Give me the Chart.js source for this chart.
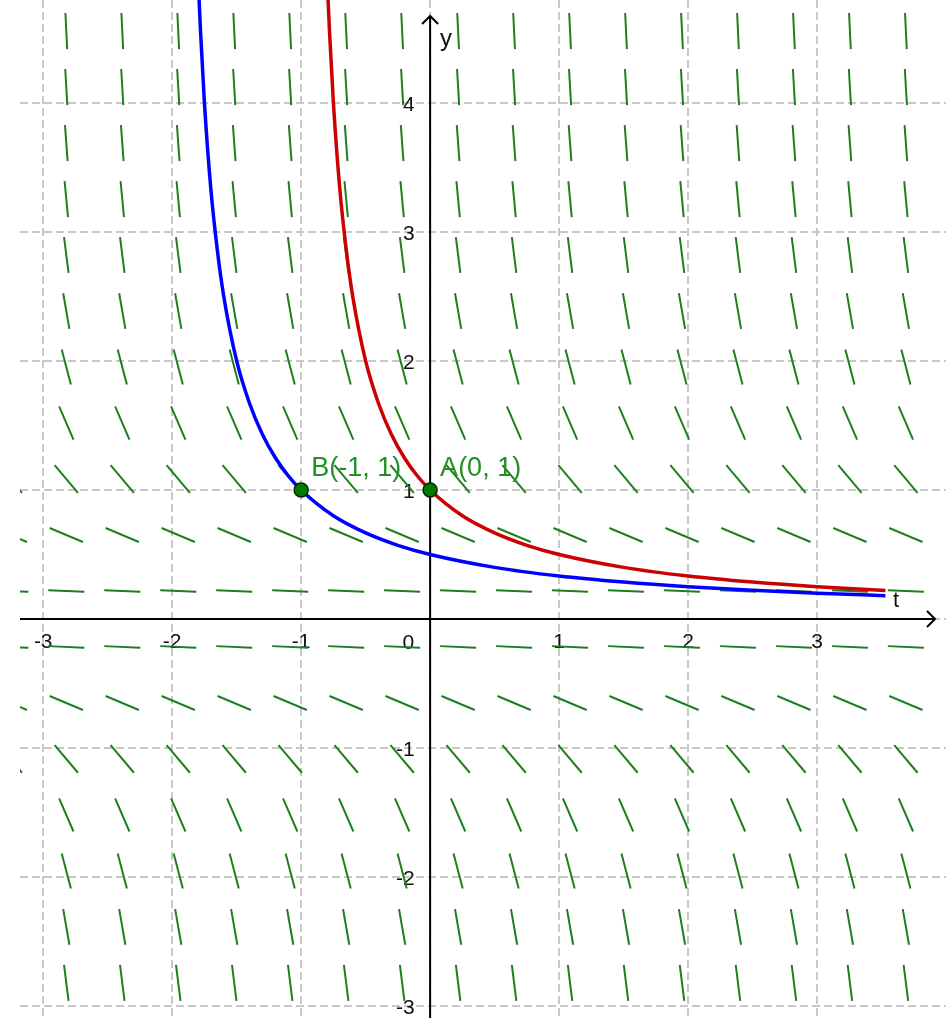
<!DOCTYPE html>
<html>
<head>
<meta charset="utf-8">
<title>Slope field y' = -y^2</title>
<script src="https://cdn.jsdelivr.net/npm/chart.js@4.4.1/dist/chart.umd.min.js"></script>
<style>
  html, body { margin: 0; padding: 0; background: #fff; }
  #wrap { width: 946px; height: 1018px; }
</style>
</head>
<body>
<div id="wrap"><canvas id="fieldChart" width="946" height="1018"></canvas></div>
<script>
// visible window of the graphics view
var tMin = -3.18, tMax = 4.0;
var yMin = -3.093, yMax = 4.798;

// axis ticks
var tTicks = [-3, -2, -1, 0, 1, 2, 3];
var yTicks = [-3, -2, -1, 0, 1, 2, 3, 4];

var fieldT = [-3.255, -2.821, -2.387, -1.953, -1.519, -1.085, -0.651, -0.217, 0.217, 0.651, 1.085, 1.519, 1.953, 2.387, 2.821, 3.255, 3.689];
var fieldY = [4.557, 4.123, 3.689, 3.255, 2.821, 2.387, 1.953, 1.519, 1.085, 0.651, 0.217, -0.217, -0.651, -1.085, -1.519, -1.953, -2.387, -2.821];
var fieldSlope = [-20.8, -17.0, -13.6, -10.6, -7.96, -5.7, -3.81, -2.31, -1.18, -0.42, -0.047, -0.047, -0.42, -1.18, -2.31, -3.81, -5.7, -7.96];

// solution through A (red)
var redT = [-0.8, -0.78, -0.75, -0.7, -0.65, -0.6, -0.5, -0.4, -0.3, -0.2, -0.1, 0, 0.25, 0.5, 0.75, 1, 1.5, 2, 2.5, 3, 3.53];
var redY = [5.0, 4.55, 4.0, 3.33, 2.86, 2.5, 2.0, 1.67, 1.43, 1.25, 1.11, 1.0, 0.8, 0.667, 0.571, 0.5, 0.4, 0.333, 0.286, 0.25, 0.221];

// solution through B (blue)
var blueT = [-1.8, -1.78, -1.75, -1.7, -1.65, -1.6, -1.5, -1.4, -1.3, -1.2, -1.1, -1, -0.75, -0.5, -0.25, 0, 0.5, 1, 1.5, 2, 2.5, 3, 3.53];
var blueY = [5.0, 4.55, 4.0, 3.33, 2.86, 2.5, 2.0, 1.67, 1.43, 1.25, 1.11, 1.0, 0.8, 0.667, 0.571, 0.5, 0.4, 0.333, 0.286, 0.25, 0.222, 0.2, 0.181];

// marked points
var pointT = [0, -1];
var pointY = [1, 1];
var pointNames = ['A(0, 1)', 'B(-1, 1)'];

var FONT = '"Liberation Sans", Arial, sans-serif';

function zip(xs, ys) {
  var out = [];
  for (var i = 0; i < xs.length; i++) {
    out.push({x: xs[i], y: ys[i]});
  }
  return out;
}

// one short segment per sample, broken apart by null points
function fieldSegments(halfLen) {
  var pts = [];
  for (var r = 0; r < fieldY.length; r++) {
    var a = Math.atan(fieldSlope[r]);
    var dx = halfLen * Math.cos(a);
    var dy = halfLen * Math.sin(a);
    for (var c = 0; c < fieldT.length; c++) {
      pts.push({x: fieldT[c] - dx, y: fieldY[r] - dy});
      pts.push({x: fieldT[c] + dx, y: fieldY[r] + dy});
      pts.push({x: fieldT[c], y: null});
    }
  }
  return pts;
}

function tickText(v) {
  return v === 0 ? '' : String(v);
}

// axes sit on the chart area, so they must not take any room
function noRoom(scale) {
  scale.paddingTop = 0;
  scale.paddingBottom = 0;
  scale.paddingLeft = 0;
  scale.paddingRight = 0;
  if (scale.isHorizontal()) {
    scale.height = 0;
  } else {
    scale.width = 0;
  }
}

var axesPlugin = {
  id: 'axes',
  beforeDatasetsDraw: function(chart) {
    var ctx = chart.ctx, area = chart.chartArea;
    var x0 = chart.scales.x.getPixelForValue(0);
    var y0 = chart.scales.y.getPixelForValue(0);
    var xEnd = area.right - 11, yEnd = area.top + 16;
    ctx.save();
    ctx.strokeStyle = '#000';
    ctx.lineWidth = 2;
    ctx.beginPath();
    ctx.moveTo(area.left, y0); ctx.lineTo(xEnd, y0);
    ctx.moveTo(x0, area.bottom); ctx.lineTo(x0, yEnd);
    ctx.moveTo(xEnd - 8, y0 - 8); ctx.lineTo(xEnd, y0); ctx.lineTo(xEnd - 8, y0 + 8);
    ctx.moveTo(x0 - 8, yEnd + 8); ctx.lineTo(x0, yEnd); ctx.lineTo(x0 + 8, yEnd + 8);
    ctx.stroke();

    ctx.fillStyle = '#111';
    ctx.textBaseline = 'alphabetic';
    ctx.textAlign = 'left';
    ctx.font = '22px ' + FONT;
    ctx.fillText('t', xEnd - 42, y0 - 12);
    ctx.font = '24px ' + FONT;
    ctx.fillText('y', x0 + 10, yEnd + 30);
    ctx.font = '21px ' + FONT;
    ctx.textAlign = 'right';
    ctx.textBaseline = 'middle';
    ctx.fillText('0', x0 - 16, y0 + 24);
    ctx.restore();
  },
  afterDatasetsDraw: function(chart) {
    var ctx = chart.ctx;
    ctx.save();
    ctx.fillStyle = '#239023';
    ctx.font = '27px ' + FONT;
    ctx.textAlign = 'left';
    ctx.textBaseline = 'alphabetic';
    for (var i = 0; i < pointNames.length; i++) {
      var px = chart.scales.x.getPixelForValue(pointT[i]);
      var py = chart.scales.y.getPixelForValue(pointY[i]);
      ctx.fillText(pointNames[i], px + 10, py - 14);
    }
    ctx.restore();
  }
};

var ctx = document.getElementById('fieldChart');
var fieldChart = new Chart(ctx, {
  type: 'scatter',
  data: {
    datasets: [{
      label: 'points',
      data: zip(pointT, pointY),
      showLine: false,
      pointRadius: 7,
      pointBackgroundColor: '#007a00',
      pointBorderColor: '#002a00',
      pointBorderWidth: 1.5
    }, {
      label: 'through A',
      data: zip(redT, redY),
      showLine: true,
      borderColor: '#cc0000',
      borderWidth: 3.5,
      pointRadius: 0,
      cubicInterpolationMode: 'monotone'
    }, {
      label: 'through B',
      data: zip(blueT, blueY),
      showLine: true,
      borderColor: '#0000ff',
      borderWidth: 3.5,
      pointRadius: 0,
      cubicInterpolationMode: 'monotone'
    }, {
      label: 'slope field',
      data: fieldSegments(0.14),
      showLine: true,
      spanGaps: false,
      borderColor: '#1f7f1f',
      borderWidth: 2,
      pointRadius: 0,
      clip: 0
    }]
  },
  options: {
    responsive: false,
    animation: false,
    devicePixelRatio: 1,
    events: [],
    layout: {autoPadding: false, padding: {left: 20, top: 0, right: 0, bottom: 0}},
    plugins: {
      legend: {display: false},
      tooltip: {enabled: false}
    },
    scales: {
      x: {
        type: 'linear',
        min: tMin,
        max: tMax,
        position: {y: 0},
        afterBuildTicks: function(scale) {
          scale.ticks = tTicks.map(function(v) { return {value: v}; });
        },
        afterFit: noRoom,
        border: {display: false, dash: [8, 4]},
        grid: {color: '#c8c8c8', lineWidth: 2, drawTicks: false},
        ticks: {padding: 11, color: '#111', autoSkip: false, maxRotation: 0,
          font: {family: FONT, size: 21}, callback: tickText}
      },
      y: {
        type: 'linear',
        min: yMin,
        max: yMax,
        // labels hang just left of the t = 0 axis line
        position: {x: -0.12},
        afterBuildTicks: function(scale) {
          scale.ticks = yTicks.map(function(v) { return {value: v}; });
        },
        afterFit: noRoom,
        border: {display: false, dash: [8, 4]},
        grid: {color: '#c8c8c8', lineWidth: 2, drawTicks: false},
        ticks: {color: '#111', autoSkip: false, labelOffset: 2,
          font: {family: FONT, size: 21}, callback: tickText}
      }
    }
  },
  plugins: [axesPlugin]
});
</script>
</body>
</html>
